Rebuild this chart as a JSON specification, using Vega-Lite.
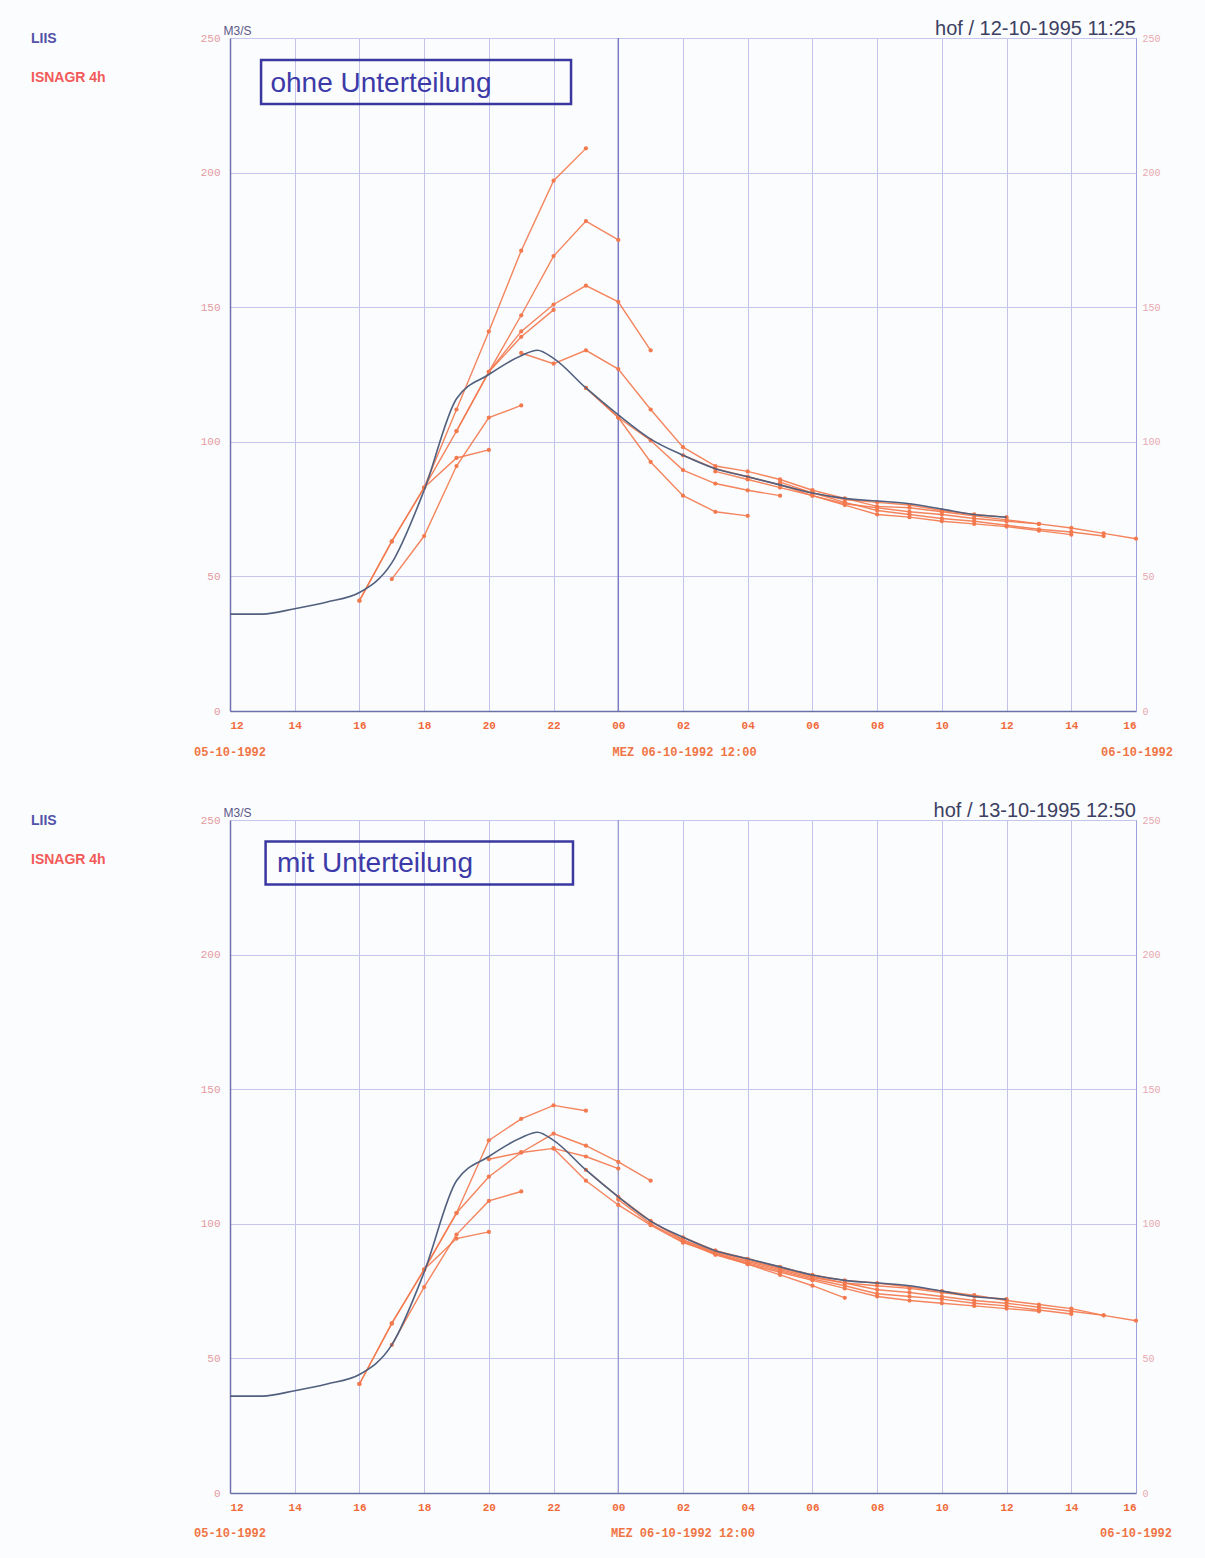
{
  "$schema": "https://vega.github.io/schema/vega-lite/v6.json",
  "background": "#fbfcfd",
  "padding": {"left": 16, "top": 18, "right": 40, "bottom": 20},
  "spacing": 41,
  "config": {
    "view": {"stroke": "#c4c4e6", "strokeWidth": 1},
    "axis": {"ticks": false}
  },
  "resolve": {"scale": {"color": "independent"}, "legend": {"color": "independent"}},
  "datasets": {
    "ohne": [
      {"src":"LIIS","run":"obs","t":12,"q":36},{"src":"LIIS","run":"obs","t":13,"q":36},{"src":"LIIS","run":"obs","t":14,"q":38},{"src":"LIIS","run":"obs","t":15,"q":40.5},{"src":"LIIS","run":"obs","t":16,"q":44},{"src":"LIIS","run":"obs","t":17,"q":55},{"src":"LIIS","run":"obs","t":18,"q":82},{"src":"LIIS","run":"obs","t":19,"q":116},{"src":"LIIS","run":"obs","t":20,"q":125},{"src":"LIIS","run":"obs","t":21,"q":132},{"src":"LIIS","run":"obs","t":21.5,"q":134},{"src":"LIIS","run":"obs","t":22,"q":131},{"src":"LIIS","run":"obs","t":23,"q":120},{"src":"LIIS","run":"obs","t":24,"q":110},{"src":"LIIS","run":"obs","t":25,"q":101},{"src":"LIIS","run":"obs","t":26,"q":95},{"src":"LIIS","run":"obs","t":27,"q":90},{"src":"LIIS","run":"obs","t":28,"q":87},{"src":"LIIS","run":"obs","t":29,"q":84},{"src":"LIIS","run":"obs","t":30,"q":81},{"src":"LIIS","run":"obs","t":31,"q":79},{"src":"LIIS","run":"obs","t":32,"q":78},{"src":"LIIS","run":"obs","t":33,"q":77},{"src":"LIIS","run":"obs","t":34,"q":75},{"src":"LIIS","run":"obs","t":35,"q":73},{"src":"LIIS","run":"obs","t":36,"q":72},
      {"src":"ISNAGR 4h","run":"a1","t":16,"q":41},{"src":"ISNAGR 4h","run":"a1","t":17,"q":63},{"src":"ISNAGR 4h","run":"a1","t":18,"q":83},{"src":"ISNAGR 4h","run":"a1","t":19,"q":112},{"src":"ISNAGR 4h","run":"a1","t":20,"q":141},{"src":"ISNAGR 4h","run":"a1","t":21,"q":171},{"src":"ISNAGR 4h","run":"a1","t":22,"q":197},{"src":"ISNAGR 4h","run":"a1","t":23,"q":209},
      {"src":"ISNAGR 4h","run":"a2","t":17,"q":49},{"src":"ISNAGR 4h","run":"a2","t":18,"q":65},{"src":"ISNAGR 4h","run":"a2","t":19,"q":91},{"src":"ISNAGR 4h","run":"a2","t":20,"q":109},{"src":"ISNAGR 4h","run":"a2","t":21,"q":113.5},
      {"src":"ISNAGR 4h","run":"a3","t":16,"q":41},{"src":"ISNAGR 4h","run":"a3","t":17,"q":63},{"src":"ISNAGR 4h","run":"a3","t":18,"q":83},{"src":"ISNAGR 4h","run":"a3","t":19,"q":94},{"src":"ISNAGR 4h","run":"a3","t":20,"q":97},
      {"src":"ISNAGR 4h","run":"a4","t":18,"q":83},{"src":"ISNAGR 4h","run":"a4","t":19,"q":104},{"src":"ISNAGR 4h","run":"a4","t":20,"q":126},{"src":"ISNAGR 4h","run":"a4","t":21,"q":147},{"src":"ISNAGR 4h","run":"a4","t":22,"q":169},{"src":"ISNAGR 4h","run":"a4","t":23,"q":182},{"src":"ISNAGR 4h","run":"a4","t":24,"q":175},
      {"src":"ISNAGR 4h","run":"a5","t":19,"q":104},{"src":"ISNAGR 4h","run":"a5","t":20,"q":126},{"src":"ISNAGR 4h","run":"a5","t":21,"q":141},{"src":"ISNAGR 4h","run":"a5","t":22,"q":151},{"src":"ISNAGR 4h","run":"a5","t":23,"q":158},{"src":"ISNAGR 4h","run":"a5","t":24,"q":152},{"src":"ISNAGR 4h","run":"a5","t":25,"q":134},
      {"src":"ISNAGR 4h","run":"a6","t":20,"q":126},{"src":"ISNAGR 4h","run":"a6","t":21,"q":139},{"src":"ISNAGR 4h","run":"a6","t":22,"q":149},
      {"src":"ISNAGR 4h","run":"a7","t":21,"q":133},{"src":"ISNAGR 4h","run":"a7","t":22,"q":129},{"src":"ISNAGR 4h","run":"a7","t":23,"q":134},{"src":"ISNAGR 4h","run":"a7","t":24,"q":127},{"src":"ISNAGR 4h","run":"a7","t":25,"q":112},{"src":"ISNAGR 4h","run":"a7","t":26,"q":98},{"src":"ISNAGR 4h","run":"a7","t":27,"q":91},{"src":"ISNAGR 4h","run":"a7","t":28,"q":89},{"src":"ISNAGR 4h","run":"a7","t":29,"q":86},{"src":"ISNAGR 4h","run":"a7","t":30,"q":82},
      {"src":"ISNAGR 4h","run":"a8","t":23,"q":120},{"src":"ISNAGR 4h","run":"a8","t":24,"q":109},{"src":"ISNAGR 4h","run":"a8","t":25,"q":92.5},{"src":"ISNAGR 4h","run":"a8","t":26,"q":80},{"src":"ISNAGR 4h","run":"a8","t":27,"q":74},{"src":"ISNAGR 4h","run":"a8","t":28,"q":72.5},
      {"src":"ISNAGR 4h","run":"a9","t":23,"q":120},{"src":"ISNAGR 4h","run":"a9","t":24,"q":109},{"src":"ISNAGR 4h","run":"a9","t":25,"q":100.5},{"src":"ISNAGR 4h","run":"a9","t":26,"q":89.5},{"src":"ISNAGR 4h","run":"a9","t":27,"q":84.5},{"src":"ISNAGR 4h","run":"a9","t":28,"q":82},{"src":"ISNAGR 4h","run":"a9","t":29,"q":80},
      {"src":"ISNAGR 4h","run":"a10","t":26,"q":95},{"src":"ISNAGR 4h","run":"a10","t":27,"q":90},{"src":"ISNAGR 4h","run":"a10","t":28,"q":87},{"src":"ISNAGR 4h","run":"a10","t":29,"q":84},{"src":"ISNAGR 4h","run":"a10","t":30,"q":81},{"src":"ISNAGR 4h","run":"a10","t":31,"q":78.5},{"src":"ISNAGR 4h","run":"a10","t":32,"q":77.5},{"src":"ISNAGR 4h","run":"a10","t":33,"q":76.5},{"src":"ISNAGR 4h","run":"a10","t":34,"q":74.5},{"src":"ISNAGR 4h","run":"a10","t":35,"q":73},{"src":"ISNAGR 4h","run":"a10","t":36,"q":72},
      {"src":"ISNAGR 4h","run":"a11","t":27,"q":89},{"src":"ISNAGR 4h","run":"a11","t":28,"q":86},{"src":"ISNAGR 4h","run":"a11","t":29,"q":83},{"src":"ISNAGR 4h","run":"a11","t":30,"q":80},{"src":"ISNAGR 4h","run":"a11","t":31,"q":77},{"src":"ISNAGR 4h","run":"a11","t":32,"q":75.5},{"src":"ISNAGR 4h","run":"a11","t":33,"q":74},{"src":"ISNAGR 4h","run":"a11","t":34,"q":73},{"src":"ISNAGR 4h","run":"a11","t":35,"q":71.5},{"src":"ISNAGR 4h","run":"a11","t":36,"q":70.5},{"src":"ISNAGR 4h","run":"a11","t":37,"q":69.5},
      {"src":"ISNAGR 4h","run":"a12","t":28,"q":87},{"src":"ISNAGR 4h","run":"a12","t":29,"q":84},{"src":"ISNAGR 4h","run":"a12","t":30,"q":80},{"src":"ISNAGR 4h","run":"a12","t":31,"q":76.5},{"src":"ISNAGR 4h","run":"a12","t":32,"q":73},{"src":"ISNAGR 4h","run":"a12","t":33,"q":72},{"src":"ISNAGR 4h","run":"a12","t":34,"q":70.5},{"src":"ISNAGR 4h","run":"a12","t":35,"q":69.5},{"src":"ISNAGR 4h","run":"a12","t":36,"q":68.5},{"src":"ISNAGR 4h","run":"a12","t":37,"q":67},{"src":"ISNAGR 4h","run":"a12","t":38,"q":65.5},
      {"src":"ISNAGR 4h","run":"a13","t":29,"q":85},{"src":"ISNAGR 4h","run":"a13","t":30,"q":81},{"src":"ISNAGR 4h","run":"a13","t":31,"q":77.5},{"src":"ISNAGR 4h","run":"a13","t":32,"q":74.5},{"src":"ISNAGR 4h","run":"a13","t":33,"q":73},{"src":"ISNAGR 4h","run":"a13","t":34,"q":71.5},{"src":"ISNAGR 4h","run":"a13","t":35,"q":70.5},{"src":"ISNAGR 4h","run":"a13","t":36,"q":69},{"src":"ISNAGR 4h","run":"a13","t":37,"q":67.5},{"src":"ISNAGR 4h","run":"a13","t":38,"q":66.5},{"src":"ISNAGR 4h","run":"a13","t":39,"q":65},
      {"src":"ISNAGR 4h","run":"a14","t":30,"q":82},{"src":"ISNAGR 4h","run":"a14","t":31,"q":79},{"src":"ISNAGR 4h","run":"a14","t":32,"q":76},{"src":"ISNAGR 4h","run":"a14","t":33,"q":75.5},{"src":"ISNAGR 4h","run":"a14","t":34,"q":74},{"src":"ISNAGR 4h","run":"a14","t":35,"q":72.5},{"src":"ISNAGR 4h","run":"a14","t":36,"q":71},{"src":"ISNAGR 4h","run":"a14","t":37,"q":69.5},{"src":"ISNAGR 4h","run":"a14","t":38,"q":68},{"src":"ISNAGR 4h","run":"a14","t":39,"q":66},{"src":"ISNAGR 4h","run":"a14","t":40,"q":64}
    ],
    "mit": [
      {"src":"LIIS","run":"obs","t":12,"q":36},{"src":"LIIS","run":"obs","t":13,"q":36},{"src":"LIIS","run":"obs","t":14,"q":38},{"src":"LIIS","run":"obs","t":15,"q":40.5},{"src":"LIIS","run":"obs","t":16,"q":44},{"src":"LIIS","run":"obs","t":17,"q":55},{"src":"LIIS","run":"obs","t":18,"q":82},{"src":"LIIS","run":"obs","t":19,"q":116},{"src":"LIIS","run":"obs","t":20,"q":125},{"src":"LIIS","run":"obs","t":21,"q":132},{"src":"LIIS","run":"obs","t":21.5,"q":134},{"src":"LIIS","run":"obs","t":22,"q":131},{"src":"LIIS","run":"obs","t":23,"q":120},{"src":"LIIS","run":"obs","t":24,"q":110},{"src":"LIIS","run":"obs","t":25,"q":101},{"src":"LIIS","run":"obs","t":26,"q":95},{"src":"LIIS","run":"obs","t":27,"q":90},{"src":"LIIS","run":"obs","t":28,"q":87},{"src":"LIIS","run":"obs","t":29,"q":84},{"src":"LIIS","run":"obs","t":30,"q":81},{"src":"LIIS","run":"obs","t":31,"q":79},{"src":"LIIS","run":"obs","t":32,"q":78},{"src":"LIIS","run":"obs","t":33,"q":77},{"src":"LIIS","run":"obs","t":34,"q":75},{"src":"LIIS","run":"obs","t":35,"q":73},{"src":"LIIS","run":"obs","t":36,"q":72},
      {"src":"ISNAGR 4h","run":"b1","t":16,"q":40.5},{"src":"ISNAGR 4h","run":"b1","t":17,"q":63},{"src":"ISNAGR 4h","run":"b1","t":18,"q":83},{"src":"ISNAGR 4h","run":"b1","t":19,"q":104},{"src":"ISNAGR 4h","run":"b1","t":20,"q":131},{"src":"ISNAGR 4h","run":"b1","t":21,"q":139},{"src":"ISNAGR 4h","run":"b1","t":22,"q":144},{"src":"ISNAGR 4h","run":"b1","t":23,"q":142},
      {"src":"ISNAGR 4h","run":"b2","t":17,"q":55},{"src":"ISNAGR 4h","run":"b2","t":18,"q":76.5},{"src":"ISNAGR 4h","run":"b2","t":19,"q":96},{"src":"ISNAGR 4h","run":"b2","t":20,"q":108.5},{"src":"ISNAGR 4h","run":"b2","t":21,"q":112},
      {"src":"ISNAGR 4h","run":"b3","t":16,"q":40.5},{"src":"ISNAGR 4h","run":"b3","t":17,"q":63},{"src":"ISNAGR 4h","run":"b3","t":18,"q":83},{"src":"ISNAGR 4h","run":"b3","t":19,"q":94.5},{"src":"ISNAGR 4h","run":"b3","t":20,"q":97},
      {"src":"ISNAGR 4h","run":"b4","t":18,"q":83},{"src":"ISNAGR 4h","run":"b4","t":19,"q":104},{"src":"ISNAGR 4h","run":"b4","t":20,"q":117.5},{"src":"ISNAGR 4h","run":"b4","t":21,"q":126.5},{"src":"ISNAGR 4h","run":"b4","t":22,"q":133.5},{"src":"ISNAGR 4h","run":"b4","t":23,"q":129},{"src":"ISNAGR 4h","run":"b4","t":24,"q":123},{"src":"ISNAGR 4h","run":"b4","t":25,"q":116},
      {"src":"ISNAGR 4h","run":"b5","t":20,"q":124},{"src":"ISNAGR 4h","run":"b5","t":21,"q":126.5},{"src":"ISNAGR 4h","run":"b5","t":22,"q":128},{"src":"ISNAGR 4h","run":"b5","t":23,"q":125},{"src":"ISNAGR 4h","run":"b5","t":24,"q":120.5},
      {"src":"ISNAGR 4h","run":"b6","t":22,"q":128},{"src":"ISNAGR 4h","run":"b6","t":23,"q":116},{"src":"ISNAGR 4h","run":"b6","t":24,"q":107},{"src":"ISNAGR 4h","run":"b6","t":25,"q":99.5},{"src":"ISNAGR 4h","run":"b6","t":26,"q":93},{"src":"ISNAGR 4h","run":"b6","t":27,"q":89},{"src":"ISNAGR 4h","run":"b6","t":28,"q":85},{"src":"ISNAGR 4h","run":"b6","t":29,"q":81},{"src":"ISNAGR 4h","run":"b6","t":30,"q":77},{"src":"ISNAGR 4h","run":"b6","t":31,"q":72.5},
      {"src":"ISNAGR 4h","run":"b7","t":23,"q":120},{"src":"ISNAGR 4h","run":"b7","t":24,"q":110},{"src":"ISNAGR 4h","run":"b7","t":25,"q":101},{"src":"ISNAGR 4h","run":"b7","t":26,"q":94},{"src":"ISNAGR 4h","run":"b7","t":27,"q":89.5},{"src":"ISNAGR 4h","run":"b7","t":28,"q":86},{"src":"ISNAGR 4h","run":"b7","t":29,"q":83},{"src":"ISNAGR 4h","run":"b7","t":30,"q":80},{"src":"ISNAGR 4h","run":"b7","t":31,"q":78},{"src":"ISNAGR 4h","run":"b7","t":32,"q":77},{"src":"ISNAGR 4h","run":"b7","t":33,"q":76},{"src":"ISNAGR 4h","run":"b7","t":34,"q":74.5},{"src":"ISNAGR 4h","run":"b7","t":35,"q":73},{"src":"ISNAGR 4h","run":"b7","t":36,"q":72},
      {"src":"ISNAGR 4h","run":"b8","t":24,"q":109},{"src":"ISNAGR 4h","run":"b8","t":25,"q":100},{"src":"ISNAGR 4h","run":"b8","t":26,"q":93.5},{"src":"ISNAGR 4h","run":"b8","t":27,"q":88.5},{"src":"ISNAGR 4h","run":"b8","t":28,"q":85},{"src":"ISNAGR 4h","run":"b8","t":29,"q":82},{"src":"ISNAGR 4h","run":"b8","t":30,"q":79},{"src":"ISNAGR 4h","run":"b8","t":31,"q":76},{"src":"ISNAGR 4h","run":"b8","t":32,"q":73},{"src":"ISNAGR 4h","run":"b8","t":33,"q":71.5},{"src":"ISNAGR 4h","run":"b8","t":34,"q":70.5},{"src":"ISNAGR 4h","run":"b8","t":35,"q":69.5},{"src":"ISNAGR 4h","run":"b8","t":36,"q":68.5},{"src":"ISNAGR 4h","run":"b8","t":37,"q":67.5},
      {"src":"ISNAGR 4h","run":"b9","t":25,"q":101},{"src":"ISNAGR 4h","run":"b9","t":26,"q":94},{"src":"ISNAGR 4h","run":"b9","t":27,"q":89},{"src":"ISNAGR 4h","run":"b9","t":28,"q":85.5},{"src":"ISNAGR 4h","run":"b9","t":29,"q":82.5},{"src":"ISNAGR 4h","run":"b9","t":30,"q":79.5},{"src":"ISNAGR 4h","run":"b9","t":31,"q":77},{"src":"ISNAGR 4h","run":"b9","t":32,"q":74},{"src":"ISNAGR 4h","run":"b9","t":33,"q":73},{"src":"ISNAGR 4h","run":"b9","t":34,"q":72},{"src":"ISNAGR 4h","run":"b9","t":35,"q":70.5},{"src":"ISNAGR 4h","run":"b9","t":36,"q":69.5},{"src":"ISNAGR 4h","run":"b9","t":37,"q":68},{"src":"ISNAGR 4h","run":"b9","t":38,"q":66.5},
      {"src":"ISNAGR 4h","run":"b10","t":26,"q":95},{"src":"ISNAGR 4h","run":"b10","t":27,"q":90},{"src":"ISNAGR 4h","run":"b10","t":28,"q":86.5},{"src":"ISNAGR 4h","run":"b10","t":29,"q":83.5},{"src":"ISNAGR 4h","run":"b10","t":30,"q":80.5},{"src":"ISNAGR 4h","run":"b10","t":31,"q":78},{"src":"ISNAGR 4h","run":"b10","t":32,"q":75.5},{"src":"ISNAGR 4h","run":"b10","t":33,"q":74.5},{"src":"ISNAGR 4h","run":"b10","t":34,"q":73},{"src":"ISNAGR 4h","run":"b10","t":35,"q":71.5},{"src":"ISNAGR 4h","run":"b10","t":36,"q":70.5},{"src":"ISNAGR 4h","run":"b10","t":37,"q":69},{"src":"ISNAGR 4h","run":"b10","t":38,"q":67.5},{"src":"ISNAGR 4h","run":"b10","t":39,"q":66},
      {"src":"ISNAGR 4h","run":"b11","t":27,"q":90},{"src":"ISNAGR 4h","run":"b11","t":28,"q":87},{"src":"ISNAGR 4h","run":"b11","t":29,"q":84},{"src":"ISNAGR 4h","run":"b11","t":30,"q":81},{"src":"ISNAGR 4h","run":"b11","t":31,"q":79},{"src":"ISNAGR 4h","run":"b11","t":32,"q":78},{"src":"ISNAGR 4h","run":"b11","t":33,"q":76.5},{"src":"ISNAGR 4h","run":"b11","t":34,"q":75},{"src":"ISNAGR 4h","run":"b11","t":35,"q":73.5},{"src":"ISNAGR 4h","run":"b11","t":36,"q":71.5},{"src":"ISNAGR 4h","run":"b11","t":37,"q":70},{"src":"ISNAGR 4h","run":"b11","t":38,"q":68.5},{"src":"ISNAGR 4h","run":"b11","t":39,"q":66},{"src":"ISNAGR 4h","run":"b11","t":40,"q":64}
    ]
  },
  "vconcat": [
    {
      "width": 906, "height": 673,
      "title": {"text": "hof / 12-10-1995 11:25", "anchor": "end", "frame": "group", "font": "Liberation Sans", "fontSize": 20, "fontWeight": "normal", "color": "#3c4062", "offset": -15},
      "layer": [
        {
          "data": {"name": "ohne"},
          "layer": [
            {
              "data": {"values": [{}]},
              "mark": {"type": "rule", "color": "#7c7cc4", "strokeWidth": 1.5},
              "encoding": {
                "x": {"datum": 24, "type": "quantitative", "scale": {"domain": [12, 40], "nice": false, "zero": false},
                  "axis": {"values": [12,14,16,18,20,22,24,26,28,30,32,34,36,38,40], "title": null, "grid": true, "gridColor": "#c2c2ea", "gridWidth": 1,
                    "labelExpr": "(datum.value % 24) < 10 ? '0' + (datum.value % 24) : '' + (datum.value % 24)",
                    "labelFont": "Liberation Mono", "labelFontSize": 11, "labelFontWeight": "bold", "labelColor": "#f06a3a", "labelPadding": 8,
                    "domainColor": "#6a70a8", "domainWidth": 1.5}}
              }
            },
            {
              "data": {"values": [{}]},
              "mark": {"type": "rect", "fill": "#ffffff", "fillOpacity": 0, "stroke": "#3a38a0", "strokeWidth": 2.5},
              "encoding": {"x": {"datum": 12.96}, "x2": {"datum": 22.54}, "y": {"datum": 241.8}, "y2": {"datum": 225.5}}
            },
            {
              "data": {"values": [{}]},
              "mark": {"type": "text", "text": "ohne Unterteilung", "align": "left", "baseline": "middle", "font": "Liberation Sans", "fontSize": 28, "color": "#3c3aa8"},
              "encoding": {"x": {"datum": 13.25}, "y": {"datum": 233}}
            },
            {
              "data": {"values": [{}]},
              "mark": {"type": "text", "text": "05-10-1992", "align": "center", "baseline": "middle", "font": "Liberation Mono", "fontSize": 12, "fontWeight": "bold", "color": "#f07444"},
              "encoding": {"x": {"datum": 12}, "y": {"datum": -15.2}}
            },
            {
              "data": {"values": [{}]},
              "mark": {"type": "text", "text": "06-10-1992", "align": "center", "baseline": "middle", "font": "Liberation Mono", "fontSize": 12, "fontWeight": "bold", "color": "#f07444"},
              "encoding": {"x": {"datum": 40.03}, "y": {"datum": -15.2}}
            },
            {
              "data": {"values": [{}]},
              "mark": {"type": "text", "text": "MEZ 06-10-1992 12:00", "align": "center", "baseline": "middle", "font": "Liberation Mono", "fontSize": 12, "fontWeight": "bold", "color": "#f07444"},
              "encoding": {"x": {"datum": 26.05}, "y": {"datum": -15.2}}
            },
            {
              "transform": [{"filter": "datum.src !== 'LIIS'"}],
              "mark": {"type": "line", "strokeWidth": 1.4, "opacity": 0.92, "point": {"filled": true, "size": 18}},
              "encoding": {
                "x": {"field": "t", "type": "quantitative"},
                "y": {"field": "q", "type": "quantitative"},
                "detail": {"field": "run"},
                "color": {"field": "src", "type": "nominal"}
              }
            },
            {
              "transform": [{"filter": "datum.src === 'LIIS'"}],
              "mark": {"type": "line", "strokeWidth": 1.6, "interpolate": "monotone"},
              "encoding": {
                "x": {"field": "t", "type": "quantitative"},
                "y": {"field": "q", "type": "quantitative", "scale": {"domain": [0, 250], "nice": false},
                  "axis": {"values": [0,50,100,150,200,250], "grid": true, "gridColor": "#c6c6ec", "title": "M3/S", "titleAngle": 0, "titleAlign": "left", "titleBaseline": "bottom", "titleX": -7, "titleY": -1,
                    "titleFont": "Liberation Sans", "titleFontSize": 12, "titleFontWeight": "normal", "titleColor": "#5a5888",
                    "labelFont": "Liberation Mono", "labelFontSize": 11, "labelColor": "#e39aa0", "labelPadding": 10, "domainColor": "#7070b0", "domainWidth": 1.5}},
                "color": {"field": "src", "type": "nominal", "scale": {"domain": ["LIIS", "ISNAGR 4h"], "range": ["#50607e", "#f3794f"]},
                  "legend": {"orient": "none", "legendX": -213, "legendY": -6, "title": null, "symbolSize": 0, "symbolStrokeWidth": 0, "symbolOpacity": 0, "labelOffset": 0,
                    "labelFont": "Liberation Sans", "labelFontSize": 14, "labelFontWeight": "bold", "rowPadding": 25,
                    "encode": {"labels": {"update": {"fill": {"signal": "datum.value === 'LIIS' ? '#5252a8' : '#f25a5a'"}}}}}}
              }
            }
          ]
        },
        {
          "data": {"values": [{}]},
          "mark": {"type": "rule", "opacity": 0},
          "encoding": {"y": {"datum": 0, "type": "quantitative", "scale": {"domain": [0, 250], "nice": false},
            "axis": {"orient": "right", "values": [0,50,100,150,200,250], "grid": false, "title": null, "labelFont": "Liberation Mono", "labelFontSize": 10, "labelColor": "#e8a8b0", "labelPadding": 6, "domainColor": "#a0a0dc"}}}
        }
      ],
      "resolve": {"scale": {"y": "independent"}}
    },
    {
      "width": 906, "height": 673,
      "title": {"text": "hof / 13-10-1995 12:50", "anchor": "end", "frame": "group", "font": "Liberation Sans", "fontSize": 20, "fontWeight": "normal", "color": "#3c4062", "offset": -15},
      "layer": [
        {
          "data": {"name": "mit"},
          "layer": [
            {
              "data": {"values": [{}]},
              "mark": {"type": "rule", "color": "#9a9ad0", "strokeWidth": 1.3},
              "encoding": {
                "x": {"datum": 24, "type": "quantitative", "scale": {"domain": [12, 40], "nice": false, "zero": false},
                  "axis": {"values": [12,14,16,18,20,22,24,26,28,30,32,34,36,38,40], "title": null, "grid": true, "gridColor": "#c2c2ea", "gridWidth": 1,
                    "labelExpr": "(datum.value % 24) < 10 ? '0' + (datum.value % 24) : '' + (datum.value % 24)",
                    "labelFont": "Liberation Mono", "labelFontSize": 11, "labelFontWeight": "bold", "labelColor": "#f06a3a", "labelPadding": 8,
                    "domainColor": "#6a70a8", "domainWidth": 1.5}}
              }
            },
            {
              "data": {"values": [{}]},
              "mark": {"type": "rect", "fill": "#ffffff", "fillOpacity": 0, "stroke": "#3a38a0", "strokeWidth": 2.5},
              "encoding": {"x": {"datum": 13.1}, "x2": {"datum": 22.6}, "y": {"datum": 242}, "y2": {"datum": 226}}
            },
            {
              "data": {"values": [{}]},
              "mark": {"type": "text", "text": "mit Unterteilung", "align": "left", "baseline": "middle", "font": "Liberation Sans", "fontSize": 28, "color": "#3c3aa8"},
              "encoding": {"x": {"datum": 13.45}, "y": {"datum": 233.5}}
            },
            {
              "data": {"values": [{}]},
              "mark": {"type": "text", "text": "05-10-1992", "align": "center", "baseline": "middle", "font": "Liberation Mono", "fontSize": 12, "fontWeight": "bold", "color": "#f07444"},
              "encoding": {"x": {"datum": 12}, "y": {"datum": -15}}
            },
            {
              "data": {"values": [{}]},
              "mark": {"type": "text", "text": "06-10-1992", "align": "center", "baseline": "middle", "font": "Liberation Mono", "fontSize": 12, "fontWeight": "bold", "color": "#f07444"},
              "encoding": {"x": {"datum": 40}, "y": {"datum": -15}}
            },
            {
              "data": {"values": [{}]},
              "mark": {"type": "text", "text": "MEZ 06-10-1992 12:00", "align": "center", "baseline": "middle", "font": "Liberation Mono", "fontSize": 12, "fontWeight": "bold", "color": "#f07444"},
              "encoding": {"x": {"datum": 26}, "y": {"datum": -15}}
            },
            {
              "transform": [{"filter": "datum.src !== 'LIIS'"}],
              "mark": {"type": "line", "strokeWidth": 1.4, "opacity": 0.92, "point": {"filled": true, "size": 18}},
              "encoding": {
                "x": {"field": "t", "type": "quantitative"},
                "y": {"field": "q", "type": "quantitative"},
                "detail": {"field": "run"},
                "color": {"field": "src", "type": "nominal"}
              }
            },
            {
              "transform": [{"filter": "datum.src === 'LIIS'"}],
              "mark": {"type": "line", "strokeWidth": 1.6, "interpolate": "monotone"},
              "encoding": {
                "x": {"field": "t", "type": "quantitative"},
                "y": {"field": "q", "type": "quantitative", "scale": {"domain": [0, 250], "nice": false},
                  "axis": {"values": [0,50,100,150,200,250], "grid": true, "gridColor": "#c6c6ec", "title": "M3/S", "titleAngle": 0, "titleAlign": "left", "titleBaseline": "bottom", "titleX": -7, "titleY": -1,
                    "titleFont": "Liberation Sans", "titleFontSize": 12, "titleFontWeight": "normal", "titleColor": "#5a5888",
                    "labelFont": "Liberation Mono", "labelFontSize": 11, "labelColor": "#e39aa0", "labelPadding": 10, "domainColor": "#7070b0", "domainWidth": 1.5}},
                "color": {"field": "src", "type": "nominal", "scale": {"domain": ["LIIS", "ISNAGR 4h"], "range": ["#50607e", "#f3794f"]},
                  "legend": {"orient": "none", "legendX": -213, "legendY": -6, "title": null, "symbolSize": 0, "symbolStrokeWidth": 0, "symbolOpacity": 0, "labelOffset": 0,
                    "labelFont": "Liberation Sans", "labelFontSize": 14, "labelFontWeight": "bold", "rowPadding": 25,
                    "encode": {"labels": {"update": {"fill": {"signal": "datum.value === 'LIIS' ? '#5252a8' : '#f25a5a'"}}}}}}
              }
            }
          ]
        },
        {
          "data": {"values": [{}]},
          "mark": {"type": "rule", "opacity": 0},
          "encoding": {"y": {"datum": 0, "type": "quantitative", "scale": {"domain": [0, 250], "nice": false},
            "axis": {"orient": "right", "values": [0,50,100,150,200,250], "grid": false, "title": null, "labelFont": "Liberation Mono", "labelFontSize": 10, "labelColor": "#e8a8b0", "labelPadding": 6, "domainColor": "#a0a0dc"}}}
        }
      ],
      "resolve": {"scale": {"y": "independent"}}
    }
  ]
}
